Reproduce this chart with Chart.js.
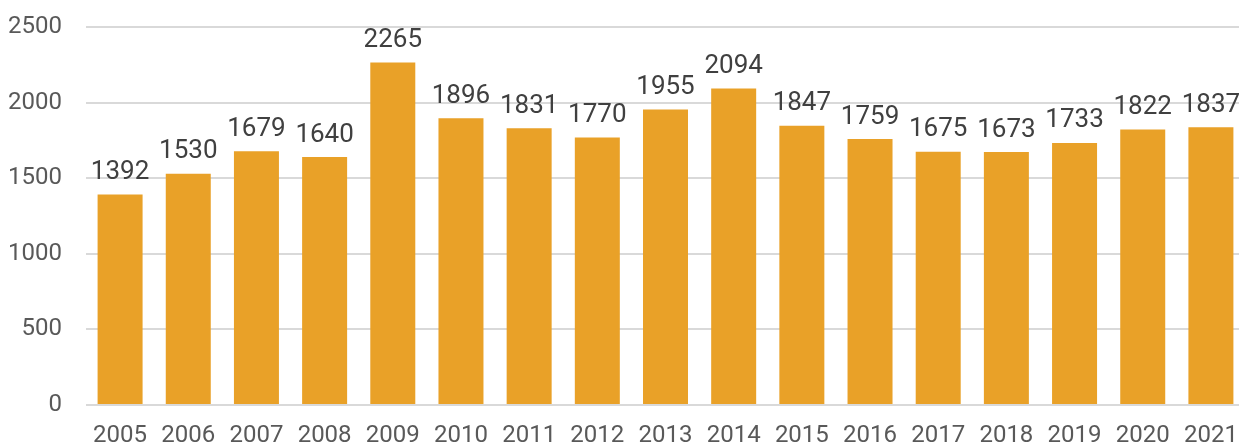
<!DOCTYPE html>
<html>
<head>
<meta charset="utf-8">
<script src="https://cdn.jsdelivr.net/npm/chart.js@4.4.0/dist/chart.umd.min.js"></script>
<style>
  html, body { margin: 0; padding: 0; background: #fff; overflow: hidden; }
  #wrap { width: 1239px; height: 445px; overflow: hidden; }
</style>
</head>
<body>
<div id="wrap"><canvas id="chart" width="1245" height="445"></canvas></div>
<script>
const years = ['2005', '2006', '2007', '2008', '2009', '2010', '2011', '2012', '2013',
    '2014', '2015', '2016', '2017', '2018', '2019', '2020', '2021'];
const counts = [1392, 1530, 1679, 1640, 2265, 1896, 1831, 1770, 1955,
    2094, 1847, 1759, 1675, 1673, 1733, 1822, 1837];
const yTicks = [0, 500, 1000, 1500, 2000, 2500];

const fontFamily = 'Roboto, "Noto Sans", sans-serif';

// Draw values above each bar
const valueLabels = {
    id: 'valueLabels',
    afterDatasetsDraw(chart) {
        const ctx = chart.ctx;
        const meta = chart.getDatasetMeta(0);
        ctx.save();
        ctx.font = '26px ' + fontFamily;
        ctx.fillStyle = '#404040';
        ctx.textAlign = 'center';
        ctx.textBaseline = 'bottom';
        meta.data.forEach((bar, i) => {
            ctx.fillText(String(counts[i]), bar.x, bar.y - 9);
        });
        ctx.restore();
    }
};

new Chart(document.getElementById('chart'), {
    type: 'bar',
    data: {
        labels: years,
        datasets: [{
            data: counts,
            backgroundColor: '#E9A128',
            barPercentage: 0.66,
            categoryPercentage: 1
        }]
    },
    options: {
        responsive: false,
        animation: false,
        layout: { padding: { top: 27, right: 0, left: 0, bottom: 0 } },
        plugins: { legend: { display: false }, tooltip: { enabled: false } },
        scales: {
            x: {
                grid: { display: false, drawTicks: false },
                border: { display: false },
                ticks: {
                    color: '#595959',
                    font: { family: fontFamily, size: 24 },
                    padding: 17,
                    maxRotation: 0
                },
                afterFit(scale) {
                    scale.height = 40;
                    scale.paddingLeft = 0;
                    scale.paddingRight = 0;
                }
            },
            y: {
                min: 0,
                max: 2500,
                afterBuildTicks(scale) { scale.ticks = yTicks.map(v => ({ value: v })); },
                grid: { color: '#D9D9D9', lineWidth: 2, drawTicks: false },
                border: { display: false },
                ticks: {
                    color: '#595959',
                    font: { family: fontFamily, size: 24 },
                    padding: 24,
                    callback: v => String(v)
                },
                afterFit(scale) {
                    scale.width = 86;
                    scale.paddingTop = 0;
                    scale.paddingBottom = 0;
                }
            }
        }
    },
    plugins: [valueLabels]
});
</script>
</body>
</html>
